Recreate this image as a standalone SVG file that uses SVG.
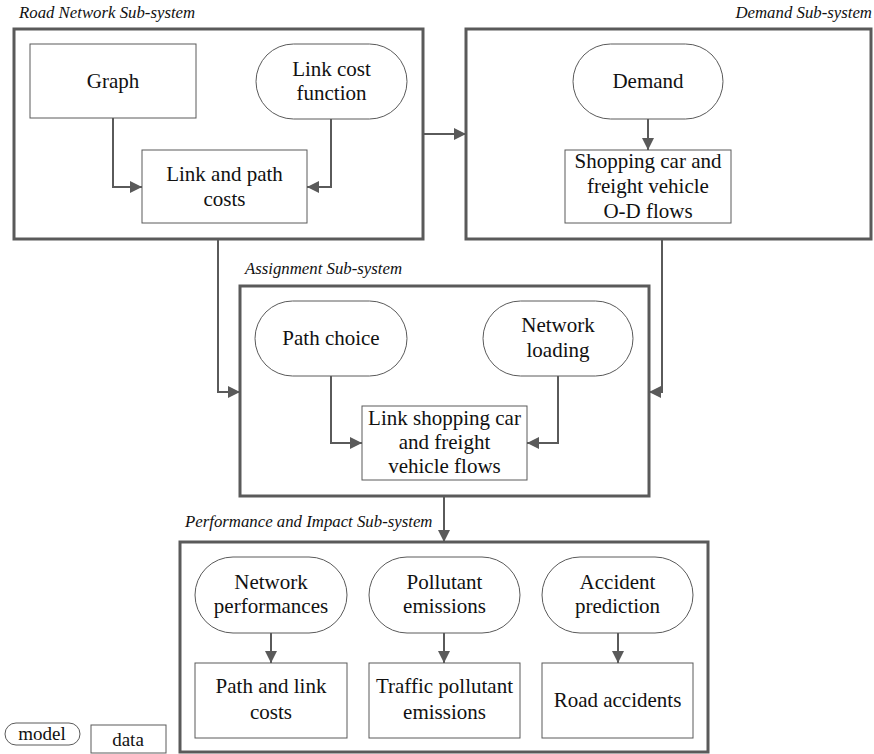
<svg xmlns="http://www.w3.org/2000/svg" width="874" height="754" viewBox="0 0 874 754">
  <style>
    .sub { fill: #fff; stroke: #5a5a5a; stroke-width: 3; }
    .node { fill: #fff; stroke: #5a5a5a; stroke-width: 1; }
    text { font-family: 'Liberation Serif', 'DejaVu Serif', serif; fill: #111; }
    .t { font-size: 21px; text-anchor: middle; }
    .lbl { font-size: 16.8px; font-style: italic; }
    .leg { font-size: 19px; text-anchor: middle; }
    .edge { fill: none; stroke: #5a5a5a; stroke-width: 2; }
  </style>
  <defs>
    <marker id="arr" viewBox="0 0 12 12" refX="12" refY="6" markerWidth="12" markerHeight="12" markerUnits="userSpaceOnUse" orient="auto">
      <path d="M0,0 L12,6 L0,12 z" fill="#5a5a5a"/>
    </marker>
  </defs>
  <rect width="874" height="754" fill="#fff"/>

  <!-- sub-system frames -->
  <g id="road-network">
    <text class="lbl" x="19" y="18">Road Network Sub-system</text>
    <rect class="sub" x="14" y="29" width="409" height="210"/>
  </g>
  <g id="demand">
    <text class="lbl" x="872" y="18" text-anchor="end">Demand Sub-system</text>
    <rect class="sub" x="466" y="29" width="405" height="210"/>
  </g>
  <g id="assignment">
    <text class="lbl" x="245" y="274">Assignment Sub-system</text>
    <rect class="sub" x="240" y="286" width="409" height="210"/>
  </g>
  <g id="performance">
    <text class="lbl" x="185" y="527">Performance and Impact Sub-system</text>
    <rect class="sub" x="180" y="542" width="528" height="210"/>
  </g>

  <!-- road network nodes -->
  <g id="graph">
    <rect class="node" x="30" y="44" width="166" height="74"/>
    <text class="t" x="113" y="88">Graph</text>
  </g>
  <g id="link-cost-function">
    <rect class="node" x="256" y="44" width="151" height="75" rx="37.5"/>
    <text class="t" x="331.5" y="76">Link cost</text>
    <text class="t" x="331.5" y="100">function</text>
  </g>
  <g id="link-path-costs">
    <rect class="node" x="142" y="150" width="165" height="73"/>
    <text class="t" x="224.5" y="181">Link and path</text>
    <text class="t" x="224.5" y="206">costs</text>
  </g>

  <!-- demand nodes -->
  <g id="demand-model">
    <rect class="node" x="573" y="44" width="150" height="75" rx="37.5"/>
    <text class="t" x="648" y="88">Demand</text>
  </g>
  <g id="od-flows">
    <rect class="node" x="565" y="150" width="166" height="73"/>
    <text class="t" x="648" y="168">Shopping car and</text>
    <text class="t" x="648" y="193">freight vehicle</text>
    <text class="t" x="648" y="218">O-D flows</text>
  </g>

  <!-- assignment nodes -->
  <g id="path-choice">
    <rect class="node" x="255" y="301" width="152" height="75" rx="37.5"/>
    <text class="t" x="331" y="345">Path choice</text>
  </g>
  <g id="network-loading">
    <rect class="node" x="483" y="301" width="150" height="75" rx="37.5"/>
    <text class="t" x="558" y="332">Network</text>
    <text class="t" x="558" y="357">loading</text>
  </g>
  <g id="link-flows">
    <rect class="node" x="362" y="406" width="165" height="74"/>
    <text class="t" x="444.5" y="425">Link shopping car</text>
    <text class="t" x="444.5" y="449">and freight</text>
    <text class="t" x="444.5" y="473">vehicle flows</text>
  </g>

  <!-- performance and impact nodes -->
  <g id="network-performances">
    <rect class="node" x="195" y="557" width="152" height="76" rx="38"/>
    <text class="t" x="271" y="589">Network</text>
    <text class="t" x="271" y="613">performances</text>
  </g>
  <g id="path-link-costs">
    <rect class="node" x="195" y="663" width="152" height="75"/>
    <text class="t" x="271" y="693">Path and link</text>
    <text class="t" x="271" y="719">costs</text>
  </g>
  <g id="pollutant-emissions">
    <rect class="node" x="369" y="557" width="151" height="76" rx="38"/>
    <text class="t" x="444.5" y="589">Pollutant</text>
    <text class="t" x="444.5" y="613">emissions</text>
  </g>
  <g id="traffic-emissions">
    <rect class="node" x="369" y="663" width="151" height="75"/>
    <text class="t" x="444.5" y="693">Traffic pollutant</text>
    <text class="t" x="444.5" y="719">emissions</text>
  </g>
  <g id="accident-prediction">
    <rect class="node" x="542" y="557" width="151" height="76" rx="38"/>
    <text class="t" x="617.5" y="589">Accident</text>
    <text class="t" x="617.5" y="613">prediction</text>
  </g>
  <g id="road-accidents">
    <rect class="node" x="542" y="663" width="151" height="75"/>
    <text class="t" x="617.5" y="707">Road accidents</text>
  </g>

  <!-- legend -->
  <g id="legend-model">
    <rect class="node" x="5" y="723" width="75" height="22" rx="11"/>
    <text class="leg" x="42" y="740">model</text>
  </g>
  <g id="legend-data">
    <rect class="node" x="91" y="725" width="75" height="28"/>
    <text class="leg" x="128" y="746">data</text>
  </g>

  <!-- connectors -->
  <g id="connectors">
    <path class="edge" d="M113,118 V187 H142" marker-end="url(#arr)"/>
    <path class="edge" d="M331,119 V187 H307" marker-end="url(#arr)"/>
    <path class="edge" d="M423,134 H466" marker-end="url(#arr)"/>
    <path class="edge" d="M648,119 V150" marker-end="url(#arr)"/>
    <path class="edge" d="M218,239 V392 H240" marker-end="url(#arr)"/>
    <path class="edge" d="M662,239 V392 H649" marker-end="url(#arr)"/>
    <path class="edge" d="M331,376 V443 H362" marker-end="url(#arr)"/>
    <path class="edge" d="M558,376 V443 H527" marker-end="url(#arr)"/>
    <path class="edge" d="M444,496 V542" marker-end="url(#arr)"/>
    <path class="edge" d="M271,633 V663" marker-end="url(#arr)"/>
    <path class="edge" d="M444,633 V663" marker-end="url(#arr)"/>
    <path class="edge" d="M618,633 V663" marker-end="url(#arr)"/>
  </g>
</svg>
